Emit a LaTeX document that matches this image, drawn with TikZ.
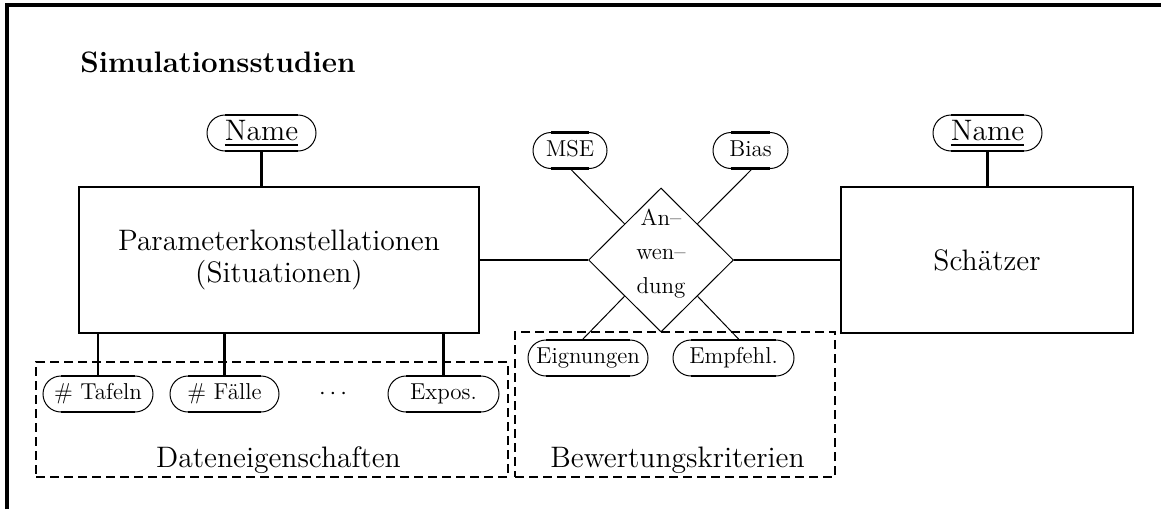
\documentclass[tikz,border=0pt]{standalone}
\usepackage{fontspec}
\usetikzlibrary{shapes.geometric,calc}

% key attribute: text with a heavy underline
\newcommand\keyattr[1]{\setbox0=\hbox{#1}\vtop{\copy0\kern1.6pt\hrule height 1pt width \wd0}}

\tikzset{
  big/.style={font=\fontsize{14.8}{16}\selectfont},
  small/.style={font=\fontsize{11.5}{17}\selectfont},
  entity/.style={draw, rectangle, line width=1.3pt, big, align=center, inner sep=0pt},
  attrib/.style={draw, rectangle, rounded corners=9pt, line width=0.5pt, outer sep=0pt,
                 minimum height=18pt, inner sep=0pt, small, text height=7.8pt, text depth=2pt},
  keyattrib/.style={attrib, big, text height=, text depth=},
  ovalbar/.style={line width=1.1pt},
  relation/.style={draw, diamond, aspect=1, line width=0.5pt, inner sep=0pt,
                   minimum width=72.5pt, minimum height=72pt},
  strong/.style={line width=1.2pt},
  weak/.style={line width=0.5pt},
  link/.style={line width=1pt},
  group/.style={draw, rectangle, line width=1.3pt, dash pattern=on 4.5pt off 2.5pt, inner sep=0pt},
  frameline/.style={line width=1.8pt, line join=miter}
}

\begin{document}
\begin{tikzpicture}[x=0.5pt, y=-0.5pt]
  \useasboundingbox (0,0) rectangle (1161,509);

  % outer frame (top and left edges)
  \draw[frameline] (7,509) -- (7,5) -- (1161,5);

  % heading
  \node[anchor=base west, font=\bfseries\fontsize{14.8}{16}\selectfont, inner sep=0pt]
    (title) at (80,72) {Simulationsstudien};

  % groups
  \node[group, minimum width=236pt, minimum height=57.5pt] (daten) at (272,419.5) {};
  \node[group, minimum width=160pt, minimum height=72.5pt] (bewert) at (675,404.5) {};
  \node[big, anchor=base, inner sep=0pt] (datenlbl) at (278.5,467) {Dateneigenschaften};
  \node[big, anchor=base, inner sep=0pt] (bewertlbl) at (677.5,467) {Bewertungskriterien};

  % entities
  \node[entity, minimum width=200pt, minimum height=73pt] (param) at (279,260)
    {Parameterkonstellationen\\(Situationen)};
  \node[entity, minimum width=146pt, minimum height=73pt] (schaetzer) at (987,260) {Schätzer};

  % relationship
  \node[relation] (anw) at (661,260) {};
  \node[small, align=center, inner sep=0pt] (anwtxt) at (661,254) {An--\\wen--\\dung};

  % attributes
  \node[keyattrib, minimum width=54.5pt] (nameL) at (261.5,133) {\keyattr{Name}};
  \node[keyattrib, minimum width=54.5pt] (nameR) at (987.5,133) {\keyattr{Name}};
  \node[attrib, minimum width=37pt] (mse) at (570,150.5) {MSE};
  \node[attrib, minimum width=37.5pt] (bias) at (750.5,150.5) {Bias};
  \node[attrib, minimum width=55pt] (taf) at (98,394) {\# Tafeln};
  \node[attrib, minimum width=54.5pt] (fae) at (224.5,394) {\# Fälle};
  \node[small, inner sep=0pt] (dots) at (333,394) {$\cdots$};
  \node[attrib, minimum width=55.5pt] (expo) at (443.5,394) {Expos.};
  \node[attrib, minimum width=60pt] (eig) at (588,358) {Eignungen};
  \node[attrib, minimum width=60.5pt] (emp) at (733.5,358) {Empfehl.};

  % heavy straight parts of the attribute ovals
  \foreach \n in {nameL,nameR,mse,bias,taf,fae,expo,eig,emp} {
    \draw[ovalbar] ([xshift=9pt]\n.north west) -- ([xshift=-9pt]\n.north east);
    \draw[ovalbar] ([xshift=9pt]\n.south west) -- ([xshift=-9pt]\n.south east);
  }

  % entity -- attribute connectors
  \draw[strong] (nameL.south) -- (nameL.south |- param.north);
  \draw[strong] (nameR.south) -- (nameR.south |- schaetzer.north);
  \foreach \n in {taf,fae,expo}
    \draw[strong] (\n.north) -- (\n.north |- param.south);

  % entity -- relationship connectors
  \draw[link] (param.east) -- (anw.west);
  \draw[link] (anw.east) -- (schaetzer.west);

  % relationship -- attribute connectors
  \draw[weak] ($(anw.north)!0.5!(anw.west)$) -- (mse.south);
  \draw[weak] ($(anw.north)!0.5!(anw.east)$) -- ($(bias.south)+(2,0)$);
  \draw[weak] ($(anw.south)!0.5!(anw.west)$) -- ($(eig.north)+(-6,0)$);
  \draw[weak] ($(anw.south)!0.5!(anw.east)$) -- ($(emp.north)+(6,0)$);
\end{tikzpicture}
\end{document}
